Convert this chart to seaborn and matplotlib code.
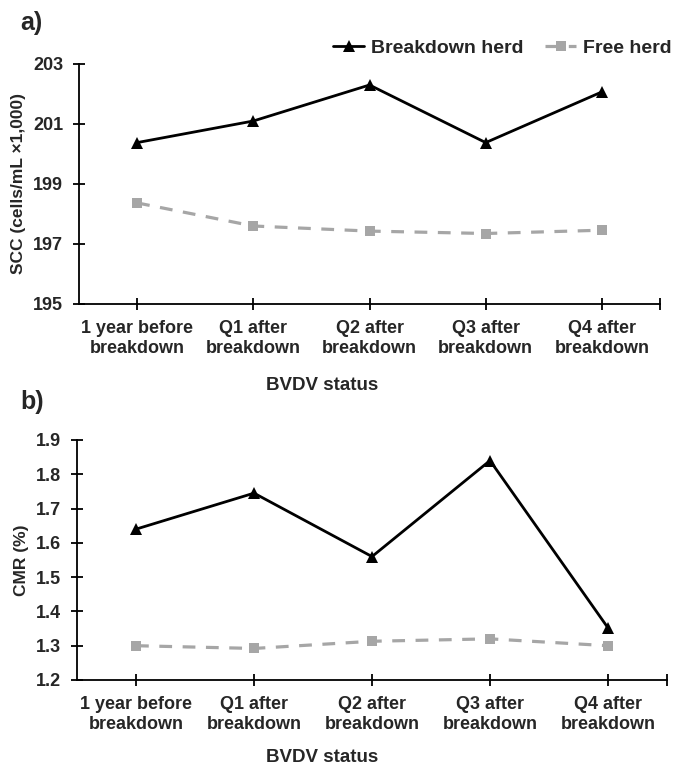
import matplotlib
matplotlib.use("Agg")
import matplotlib.pyplot as plt
from matplotlib import font_manager
import seaborn as sns
import pandas as pd

categories = ["1 year before\nbreakdown", "Q1 after\nbreakdown", "Q2 after\nbreakdown",
              "Q3 after\nbreakdown", "Q4 after\nbreakdown"]
scc_breakdown = [200.38, 201.10, 202.30, 200.38, 202.07]
scc_free = [198.37, 197.60, 197.43, 197.35, 197.46]
cmr_breakdown = [1.64, 1.745, 1.56, 1.84, 1.352]
cmr_free = [1.30, 1.292, 1.313, 1.320, 1.300]
scc_ticks = [195, 197, 199, 201, 203]
cmr_ticks = [1.2, 1.3, 1.4, 1.5, 1.6, 1.7, 1.8, 1.9]

sns.set_style("white")
names = {f.name for f in font_manager.fontManager.ttflist}
narrow = "Liberation Sans Narrow" if "Liberation Sans Narrow" in names else "Liberation Sans"
plt.rcParams["font.family"] = [narrow, "DejaVu Sans"]
plt.rcParams["font.weight"] = "bold"
FAM = [narrow, "DejaVu Sans"]

fig = plt.figure(figsize=(6.81, 7.67), dpi=100)
W, H = 681, 767
ax_a = fig.add_axes([79 / W, 1 - 304 / H, (660 - 79) / W, (304 - 64) / H])
ax_b = fig.add_axes([77 / W, 1 - 680 / H, (667 - 77) / W, (680 - 440) / H])

BLACK = "#000000"
GRAY = "#a6a6a6"

def draw(ax, brk, free, ticks, ylab):
    df = pd.DataFrame({"val": list(brk) + list(free),
                       "grp": ["Breakdown herd"] * 5 + ["Free herd"] * 5})
    df["x"] = list(range(5)) * 2
    sns.lineplot(data=df[df.grp == "Breakdown herd"], x="x", y="val", ax=ax,
                 color=BLACK, lw=2.0, marker="^", markersize=8, markeredgewidth=0,
                 label="Breakdown herd")
    sns.lineplot(data=df[df.grp == "Free herd"], x="x", y="val", ax=ax,
                 color=GRAY, lw=2.3, marker="s", markersize=7.5, markeredgewidth=0,
                 dashes=False, linestyle=(0, (4, 3.3)), label="Free herd")
    ax.set_xlim(-0.5, 4.5)
    ax.set_ylim(ticks[0], ticks[-1])
    ax.set_yticks(ticks)
    ax.set_yticklabels([f"{t:g}" if isinstance(t, int) else f"{t:.1f}" for t in ticks],
                       fontsize=13, fontweight="bold", family=FAM)
    ax.set_xticks(list(range(5)) + [4.5])
    ax.set_xticklabels(categories + [""], fontsize=13, fontweight="bold",
                       family=FAM, linespacing=1.2)
    for s in ["top", "right"]:
        ax.spines[s].set_visible(False)
    for s in ["left", "bottom"]:
        ax.spines[s].set_color("black")
        ax.spines[s].set_linewidth(1.3)
    ax.tick_params(axis="both", direction="inout", length=9, width=1.3, color="black",
                   left=True, bottom=True, pad=7)
    ax.tick_params(axis="y", pad=7)
    ax.set_xlabel("")
    ax.set_ylabel(ylab, fontsize=12.5, fontweight="bold", family=["Liberation Sans", "DejaVu Sans"],
                  labelpad=5)
    ax.grid(False)

draw(ax_a, scc_breakdown, scc_free, scc_ticks, "SCC (cells/mL ×1,000)")
draw(ax_b, cmr_breakdown, cmr_free, cmr_ticks, "CMR (%)")

ax_b.get_legend().remove()
leg = ax_a.legend(loc="center right", bbox_to_anchor=(1.05, 1 + 16 / 240), ncol=2, frameon=False,
                  handlelength=1.6, handletextpad=0.35, columnspacing=1.1,
                  prop={"family": FAM, "weight": "bold", "size": 14})

for y in [385, 757]:
    fig.text(322 / W, 1 - y / H, "BVDV status", ha="center", va="center",
             fontsize=13.5, fontweight="bold", family=FAM)
fig.text(20 / W, 1 - 23 / H, "a)", ha="left", va="center", fontsize=18, fontweight="bold",
         family=["Liberation Sans", "DejaVu Sans"])
fig.text(20 / W, 1 - 402 / H, "b)", ha="left", va="center", fontsize=18, fontweight="bold",
         family=["Liberation Sans", "DejaVu Sans"])

fig.savefig("out.png", dpi=100)
